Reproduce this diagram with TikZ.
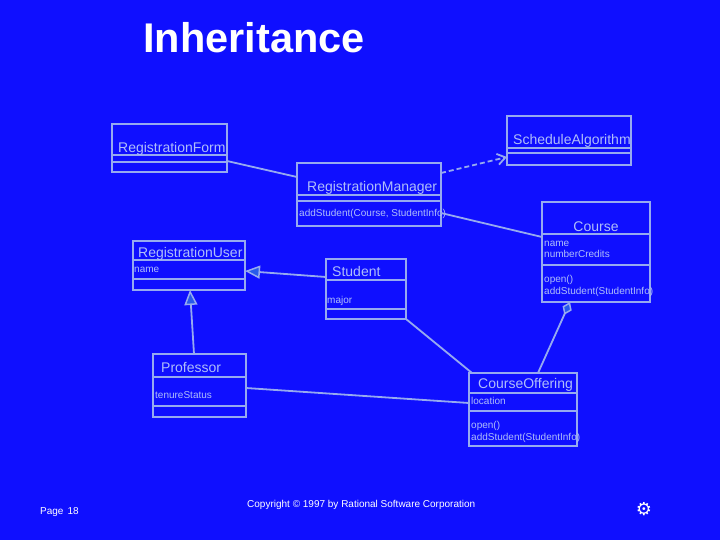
\documentclass[tikz,border=0pt]{standalone}
\usepackage{fontspec}
\setmainfont{Liberation Sans}
\newfontfamily\symfont{DejaVu Sans}
\usetikzlibrary{arrows.meta}
\definecolor{bg}{RGB}{15,15,255}
\definecolor{linec}{RGB}{150,170,240}
\definecolor{txtc}{RGB}{175,190,250}
\definecolor{trifill}{RGB}{40,90,235}
\newcommand\cdiv[2]{\draw[conn] ([yshift=-#2pt]#1.north west) -- ([yshift=-#2pt]#1.north east);}
\begin{document}
\begin{tikzpicture}[x=1pt,y=-1pt,
 classbox/.style={draw=linec, line width=1.8pt, anchor=north west, inner sep=0pt, outer sep=0pt},
 cname/.style={anchor=base west, inner sep=0pt, text=txtc, font=\fontsize{14}{14}\selectfont},
 attr/.style={anchor=base west, inner sep=0pt, text=txtc, font=\fontsize{10}{10}\selectfont},
 conn/.style={draw=linec, line width=1.8pt},
 gen/.style={-{Triangle[length=15pt,width=13pt,fill=trifill,line width=1.5pt]}},
 foot/.style={anchor=base west, inner sep=0pt, text=white, font=\fontsize{10}{10}\selectfont}]
\fill[bg] (0,0) rectangle (720,540);
\useasboundingbox (0,0) rectangle (720,540);

\node[anchor=base west, inner sep=0pt, text=white, font=\bfseries\fontsize{41.5}{41.5}\selectfont] (title) at (143,53) {Inheritance};

% class boxes
\node[classbox, minimum width=115pt, minimum height=48pt] (rf) at (112,124) {};
\cdiv{rf}{31}\cdiv{rf}{38}
\node[classbox, minimum width=124pt, minimum height=49pt] (sa) at (507,116) {};
\cdiv{sa}{32}\cdiv{sa}{37}
\node[classbox, minimum width=144pt, minimum height=63pt] (rm) at (297,163) {};
\cdiv{rm}{32}\cdiv{rm}{38}
\node[classbox, minimum width=108pt, minimum height=100pt] (co) at (542,202) {};
\cdiv{co}{32}\cdiv{co}{63}
\node[classbox, minimum width=112pt, minimum height=49pt] (ru) at (133,241) {};
\cdiv{ru}{19}\cdiv{ru}{38}
\node[classbox, minimum width=80pt, minimum height=60pt] (st) at (326,259) {};
\cdiv{st}{21}\cdiv{st}{50}
\node[classbox, minimum width=93pt, minimum height=63pt] (pr) at (153,354) {};
\cdiv{pr}{23}\cdiv{pr}{52}
\node[classbox, minimum width=108pt, minimum height=73pt] (cof) at (469,373) {};
\cdiv{cof}{20}\cdiv{cof}{38}

% texts
\node[cname] (trf) at (118,153) {RegistrationForm};
\node[cname] (tsa) at (513,145) {ScheduleAlgorithm};
\node[cname] (trm) at (307,192) {RegistrationManager};
\node[attr] (trm1) at (299,217) {addStudent(Course, StudentInfo)};
\node[cname, anchor=base] (tco) at (596,231) {Course};
\node[attr] (tco1) at (544,246) {name};
\node[attr] (tco2) at (544,258) {numberCredits};
\node[attr] (tco3) at (544,282) {open()};
\node[attr] (tco4) at (544,294) {addStudent(StudentInfo)};
\node[cname] (tru) at (138,257) {RegistrationUser};
\node[attr] (tru1) at (134,272) {name};
\node[cname] (tst) at (332,276) {Student};
\node[attr] (tst1) at (327,303) {major};
\node[cname] (tpr) at (161,372) {Professor};
\node[attr] (tpr1) at (155,398) {tenureStatus};
\node[cname] (tcof) at (478,388) {CourseOffering};
\node[attr] (tcof1) at (471,404) {location};
\node[attr] (tcof2) at (471,428) {open()};
\node[attr] (tcof3) at (471,440) {addStudent(StudentInfo)};

% connectors
\draw[conn] ([yshift=-37pt]rf.north east) -- ([yshift=-14pt]rm.north west);
\draw[conn, dash pattern=on 5pt off 3pt, -{Straight Barb[length=8pt,width=11pt]}] ([yshift=-10pt]rm.north east) -- ([yshift=-41pt]sa.north west);
\draw[conn] ([yshift=-50pt]rm.north east) -- ([yshift=-35pt]co.north west);
\draw[conn, gen] ([yshift=-18pt]st.north west) -- ([yshift=-30pt]ru.north east);
\draw[conn, gen] ([xshift=41pt]pr.north west) -- ([xshift=57pt]ru.south west);
\draw[conn] (st.south east) -- ([xshift=3pt]cof.north west);
\draw[conn, {Diamond[length=14pt,width=10pt,fill=trifill,line width=1.5pt]}-] ([xshift=28pt]co.south west) -- ([xshift=69pt]cof.north west);
\draw[conn] ([yshift=-34pt]pr.north east) -- ([yshift=-30pt]cof.north west);

% footer
\node[foot] (page) at (40,514) {Page\hspace{4pt}18};
\node[foot] (copy) at (247,507) {Copyright © 1997 by Rational Software Corporation};
\node[text=white, inner sep=0pt, font=\symfont\fontsize{18}{18}\selectfont] (sun) at (644,509) {⚙};
\end{tikzpicture}
\end{document}
